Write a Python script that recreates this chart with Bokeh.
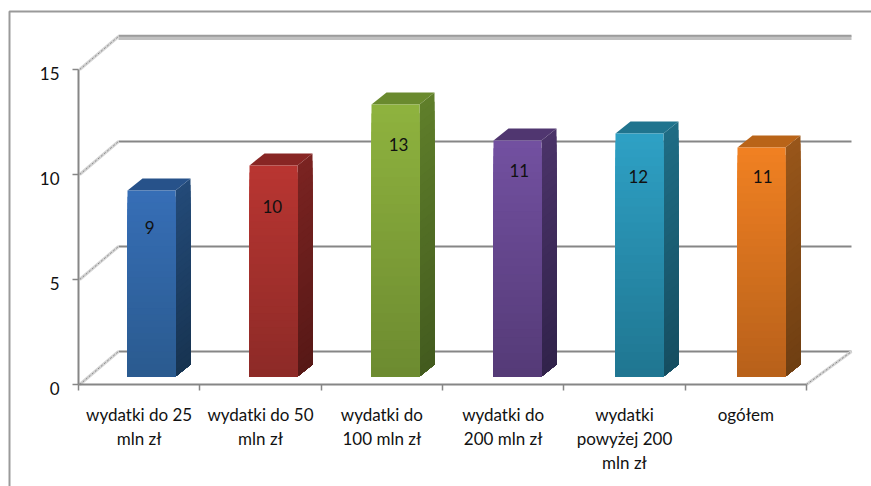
from bokeh.plotting import figure
from bokeh.models import FixedTicker, BoxAnnotation, Range1d, CustomLabelingPolicy
from bokeh.core.properties import value as V
from bokeh.embed import file_html
from bokeh.resources import INLINE

categories = ["wydatki do 25\nmln zł", "wydatki do 50\nmln zł", "wydatki do\n100 mln zł",
              "wydatki do\n200 mln zł", "wydatki\npowyżej 200\nmln zł", "ogółem"]
values = [8.86, 10.05, 12.95, 11.24, 11.57, 10.9]
value_labels = ["9", "10", "13", "11", "12", "11"]
y_ticks = [0, 5, 10, 15]
y_tick_labels = ["0", "5", "10", "15"]

front_top = ["#366EB6", "#B83531", "#8EB23E", "#7250A0", "#2EA0C4", "#F08022"]
front_bot = ["#2A5A8E", "#8C2A27", "#6C8A30", "#543A76", "#1F7590", "#B6601A"]
side_top = ["#234A78", "#7A2321", "#5F7E2A", "#4A3368", "#1F6C84", "#98561A"]
side_bot = ["#173350", "#561816", "#425A1E", "#30224A", "#154D60", "#6E3E12"]
top_face = ["#27528A", "#882624", "#6A8A2E", "#503670", "#20748E", "#B96418"]
label_drop = [1.76, 1.95, 1.9, 1.43, 2.05, 1.38]
label_dx = [-0.015, -0.01, 0.025, 0.015, -0.01, 0.01]

PXX, PXY = 121.33, 21.0
W, H = 871, 486
LEFT, BOTTOM = 78, 102

p = figure(width=W, height=H, output_backend="svg", toolbar_location=None,
           x_range=Range1d(-LEFT / PXX, (W - LEFT) / PXX), y_range=Range1d(-BOTTOM / PXY, (H - BOTTOM) / PXY),
           min_border_left=0, min_border_bottom=0, min_border_top=0, min_border_right=0,
           outline_line_color=None, background_fill_color="white", border_fill_color="white")
p.grid.visible = False

FONT = "Lato"
LBL = "#111111"
AX = "#868686"

# y axis (labels are drawn as text below, slightly lower than an axis would put them)
p.yaxis.fixed_location = 0
p.yaxis.bounds = (0, 15)
p.yaxis.ticker = FixedTicker(ticks=y_ticks, minor_ticks=[])
p.yaxis.axis_line_color = AX
p.yaxis.axis_line_width = 2
p.yaxis.major_tick_line_color = AX
p.yaxis.major_tick_line_width = 1.5
p.yaxis.major_tick_in = 0
p.yaxis.major_tick_out = 6
p.yaxis.major_label_policy = CustomLabelingPolicy(code="")
p.text([0] * len(y_ticks), y_ticks, text=y_tick_labels, x_offset=-19, y_offset=4,
       text_font=V(FONT), text_font_size="17px", text_color=LBL,
       text_align="right", text_baseline="middle")

# x axis: ticks on the category boundaries, labels on the centres
n = len(categories)
centres = [i + 0.5 for i in range(n)]
p.xaxis.fixed_location = 0
p.xaxis.bounds = (0, n)
p.xaxis.ticker = FixedTicker(ticks=centres, minor_ticks=list(range(n + 1)))
p.xaxis.major_label_overrides = {c: t for c, t in zip(centres, categories)}
p.xaxis.axis_line_color = AX
p.xaxis.axis_line_width = 2
p.xaxis.major_tick_line_color = None
p.xaxis.minor_tick_line_color = AX
p.xaxis.minor_tick_line_width = 1.5
p.xaxis.minor_tick_in = 0
p.xaxis.minor_tick_out = 6
p.xaxis.major_label_standoff = 13
p.xaxis.major_label_text_font = FONT
p.xaxis.major_label_text_font_size = "17px"
p.xaxis.major_label_text_color = LBL
p.xaxis.major_label_text_line_height = 1.15
p.xaxis.major_label_text_align = "center"

# outer chart frame
p.add_layout(BoxAnnotation(left=9, right=W + 40, top=11, bottom=H + 40,
                           left_units="canvas", right_units="canvas", top_units="canvas", bottom_units="canvas",
                           fill_color=None, line_color="#9a9a9a", line_alpha=1, line_width=2, level="underlay"))

# back wall and floor
wall_x0, wall_x1 = 40 / PXX, (851 - 78) / PXX
wall_dy = 33 / PXY
for t in y_ticks:
    y = t + wall_dy
    if t == 15:
        p.segment([wall_x0], [y - 0.07], [wall_x1], [y - 0.07], line_color="#c0c0c0", line_width=4)
        p.segment([wall_x0], [y + 0.03], [wall_x1], [y + 0.03], line_color="#9c9c9c", line_width=2)
    else:
        p.segment([wall_x0], [y], [wall_x1], [y], line_color=AX, line_width=2)
    p.segment([0.01], [t], [wall_x0], [y], line_color="#d4d4d4", line_width=3)
    p.segment([0.01], [t], [wall_x0], [y], line_color="#8a8a8a", line_width=1, line_dash="2 2")
p.segment([n], [0], [wall_x1], [wall_dy], line_color="#d4d4d4", line_width=3)
p.segment([n], [0], [wall_x1], [wall_dy], line_color="#8a8a8a", line_width=1, line_dash="2 2")


def mix(a, b, t):
    ca = [int(a[i:i + 2], 16) for i in (1, 3, 5)]
    cb = [int(b[i:i + 2], 16) for i in (1, 3, 5)]
    return "#%02x%02x%02x" % tuple(round(x + (y - x) * t) for x, y in zip(ca, cb))


# bars
bar_w, depth_x, depth_y = 48 / PXX, 15 / PXX, 12 / PXY
base = 8 / PXY
first, step = 49 / PXX, 122 / PXX
STEPS = 30
for i, v in enumerate(values):
    x0 = first + i * step
    x1 = x0 + bar_w
    top = base + v
    # side face gradient, tallest first so that the slices overlap without seams
    for k in range(STEPS, 0, -1):
        h = base + v * k / STEPS
        col = mix(side_bot[i], side_top[i], k / STEPS)
        p.patch([x1, x1 + depth_x, x1 + depth_x, x1],
                [base, base + depth_y, h + depth_y, h], fill_color=col, line_color=None)
    # top face
    p.patch([x0, x0 + depth_x, x1 + depth_x, x1], [top, top + depth_y, top + depth_y, top],
            fill_color=top_face[i], line_color=None)
    # front face
    for k in range(STEPS, 0, -1):
        h = base + v * k / STEPS
        col = mix(front_bot[i], front_top[i], k / STEPS)
        p.quad(left=x0, right=x1, bottom=base, top=h, fill_color=col, line_color=None)
    p.text([x0 + bar_w / 2 + label_dx[i]], [top - label_drop[i]], text=[value_labels[i]],
           text_font=V(FONT), text_font_size="17px", text_color=LBL,
           text_align="center", text_baseline="middle")

open("out.html", "w").write(file_html(p, INLINE))
